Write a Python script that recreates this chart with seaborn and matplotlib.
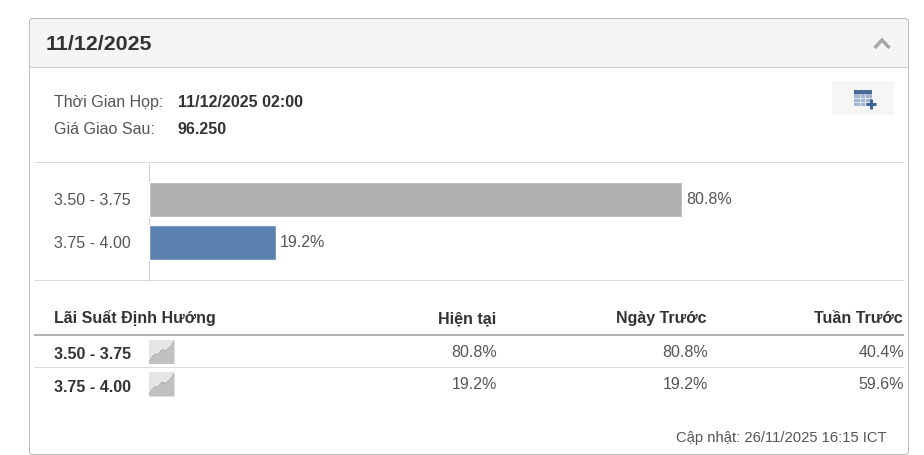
import matplotlib
matplotlib.use("Agg")
import matplotlib.pyplot as plt
from matplotlib.patches import Rectangle, FancyBboxPatch
from matplotlib.transforms import ScaledTranslation
import seaborn as sns
import pandas as pd

ranges = ["3.50 - 3.75", "3.75 - 4.00"]
current = [80.8, 19.2]
prev_day = [80.8, 19.2]
prev_week = [40.4, 59.6]
bar_colors = ["#b0b0b0", "#5b82b0"]
title = "11/12/2025"
meeting_label = "Thời Gian Họp:"
meeting_value = "11/12/2025 02:00"
futures_label = "Giá Giao Sau:"
futures_value = "96.250"
col_headers = ["Lãi Suất Định Hướng", "Hiện tại", "Ngày Trước", "Tuần Trước"]
updated = "Cập nhật: 26/11/2025 16:15 ICT"
spark_x = [0, 2, 4, 6, 8, 10, 12, 14, 16, 18, 20, 22, 24]
spark_y = [2, 5, 8, 10, 9, 11, 14, 14, 13, 15, 17, 19, 24]

W, H = 924, 455
sns.set_theme(style="white")
plt.rcParams["font.family"] = ["Liberation Sans", "DejaVu Sans"]
TXT, GREY = "#333333", "#555555"
PT = 72 / 100

fig = plt.figure(figsize=(W / 100, H / 100), dpi=100, facecolor="white")
bg = fig.add_axes([0, 0, 1, 1])
bg.set_xlim(0, W)
bg.set_ylim(H, 0)
bg.axis("off")

def T(x, y, s, px=16, bold=False, color=GREY, ha="left"):
    bg.text(x, y, s, fontsize=px * PT, fontweight="bold" if bold else "normal",
            color=color, ha=ha, va="center_baseline")

def HL(y, x0=34, x1=904, c="#dcdcdc", lw=1.0):
    bg.plot([x0, x1], [y, y], color=c, lw=lw * PT, solid_capstyle="butt")

# panel and header band
bg.add_patch(Rectangle((30, 19), 878, 48, fc="#f5f5f5", ec="none"))
bg.add_patch(FancyBboxPatch((29.5, 18.5), 879, 436, boxstyle="round,pad=0,rounding_size=3",
                            fc="none", ec="#bcbcbc", lw=1 * PT))
HL(67, 30, 908, "#cfcfcf")
T(46, 43, title, 21.4, True, TXT)
bg.plot([874.5, 882, 889.5], [48, 40, 48], color="#a8a8a8", lw=3.4 * PT,
        solid_capstyle="butt", solid_joinstyle="miter")

# meeting info
T(54, 101, meeting_label)
T(178, 101, meeting_value, 16, True, TXT)
T(54, 128, futures_label)
T(178, 128, futures_value, 16, True, TXT)

# calendar button
bg.add_patch(Rectangle((832, 81), 62, 34, fc="#f6f6f6", ec="none"))
bg.add_patch(Rectangle((854, 90), 18, 16, fc="#a3b6d2", ec="none"))
bg.add_patch(Rectangle((854, 90), 18, 4, fc="#4a6a97", ec="none"))
for gx in (859.5, 865):
    bg.plot([gx, gx], [94, 106], color="#dfe6f0", lw=1 * PT)
for gy in (98, 102):
    bg.plot([854, 872], [gy, gy], color="#dfe6f0", lw=1 * PT)
bg.plot([866, 876], [103.5, 103.5], color="#3f6398", lw=3 * PT, solid_capstyle="butt")
bg.plot([871, 871], [99, 108.5], color="#3f6398", lw=3 * PT, solid_capstyle="butt")

# rules around the bar chart
HL(162)
HL(280)
bg.plot([149, 149], [163, 280], color="#cfcfcf", lw=1 * PT)

# bar chart
ax = fig.add_axes([149 / W, 1 - 280 / H, 659.5 / W, 117 / H])
df = pd.DataFrame({"range": ranges, "value": current})
sns.barplot(data=df, x="value", y="range", hue="range", palette=bar_colors,
            legend=False, width=34.4 / 43, saturation=1, ax=ax)
ax.patch.set_alpha(0)
ax.set_xlim(0, 100)
ax.set_ylim(1 + 37.7 / 43, -36.3 / 43)
ax.set_xlabel("")
ax.set_ylabel("")
ax.set_xticks([])
ax.tick_params(axis="y", length=0, pad=18 * PT, labelsize=16 * PT, labelcolor=GREY)
for s in ax.spines.values():
    s.set_visible(False)
for lab in ax.get_yticklabels():
    lab.set_transform(lab.get_transform() + ScaledTranslation(0, 0.5 / 100, fig.dpi_scale_trans))
for c in ax.containers:
    ax.bar_label(c, fmt="%.1f%%", padding=4 * PT, fontsize=16 * PT, color=GREY)

# table
col_x = [54, 496, 707, 903]
T(col_x[0], 317, col_headers[0], 16, True, TXT)
for x, h in zip(col_x[1:], col_headers[1:]):
    T(x, 317, h, 16, True, TXT, "right")
HL(335, c="#b4b4b4", lw=2)
HL(367)
for i, (y, top, yv) in enumerate(zip((353.2, 385.7), (339.5, 372), (351, 383))):
    T(54, y, ranges[i], 16, True, TXT)
    T(col_x[1] + 1, yv, f"{current[i]:.1f}%", ha="right")
    T(col_x[2] + 1, yv, f"{prev_day[i]:.1f}%", ha="right")
    T(col_x[3] + 1, yv, f"{prev_week[i]:.1f}%", ha="right")
    sp = fig.add_axes([149 / W, 1 - (top + 24) / H, 25 / W, 24 / H])
    sp.set_facecolor("#e6e6e6")
    sp.fill_between(spark_x, spark_y, 0, color="#c0c0c0", lw=0)
    sp.plot(spark_x, spark_y, color="#a8a8a8", lw=1 * PT)
    sp.set_xlim(0, 24)
    sp.set_ylim(0, 25)
    sp.set_xticks([])
    sp.set_yticks([])
    for s in sp.spines.values():
        s.set_visible(False)

T(887, 436.5, updated, 14.7, ha="right")

fig.savefig("out.png", dpi=100)
